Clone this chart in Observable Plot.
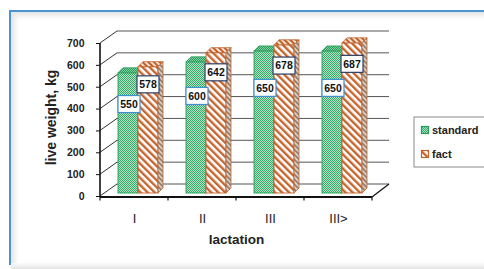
<!DOCTYPE html>
<html><head><meta charset="utf-8">
<script src="https://cdn.jsdelivr.net/npm/d3@7"></script>
<script src="https://cdn.jsdelivr.net/npm/@observablehq/plot@0.6"></script>
<style>
html,body{margin:0;padding:0;background:#fff;}
#wrap{position:relative;width:484px;height:269px;overflow:hidden;font-family:"Liberation Sans",Arial,sans-serif;}
#frame{position:absolute;left:9px;top:10px;width:520px;height:253px;border-top:2px solid #4a94d2;border-left:2px solid #4a94d2;box-shadow: inset 4px 4px 5px rgba(0,0,0,0.10);}
#bottomShade{position:absolute;left:11px;right:0;top:263px;height:6px;background:linear-gradient(#fbfbfb,#e4e4e4);}
#chart{position:absolute;left:0;top:0;}
</style></head><body>
<div id="wrap"><div id="frame"></div><div id="bottomShade"></div><div id="chart"></div></div>
<script>
// ---- data ----
const categories = ["I", "II", "III", "III>"];
const standardValues = [550, 600, 650, 650];
const factValues = [578, 642, 678, 687];
const yTicks = [0, 100, 200, 300, 400, 500, 600, 700];
const seriesNames = ["standard", "fact"];
const yTitle = "live weight, kg";
const xTitle = "lactation";

const rows = [];
categories.forEach((c, i) => {
  rows.push({category: c, series: "standard", value: standardValues[i]});
  rows.push({category: c, series: "fact", value: factValues[i]});
});
const standardRows = rows.filter(d => d.series === "standard");
const factRows = rows.filter(d => d.series === "fact");

// ---- styling ----
const look = {
  standard: {inset: [18, 30], fill: "url(#patStd)", top: "url(#patStdTop)", side: "url(#patStdSide)", stroke: "#22a058", box: "#3f8fd2", labelAt: 0.74, labelShift: 1},
  fact: {inset: [38, 10], fill: "url(#patFact)", top: "url(#patFactTop)", side: "url(#patFactSide)", stroke: "#c2632c", box: "#2c3e66", labelAt: 0.86, labelShift: 0}
};
const DEPTH = [5, -5];
const BACK = [17, -12];
const LIFT = -3;

function wallMark(index, scales, values, dim) {
  const {y} = scales;
  const g = d3.create("svg:g");
  const left = dim.marginLeft, right = dim.width - dim.marginRight;
  for (const t of yTicks) {
    const yy = y(t);
    g.append("line").attr("x1", left).attr("y1", yy).attr("x2", left + BACK[0]).attr("y2", yy + BACK[1]).attr("stroke", "#333").attr("stroke-width", 1);
    g.append("line").attr("x1", left + BACK[0]).attr("y1", yy + BACK[1]).attr("x2", right + BACK[0]).attr("y2", yy + BACK[1]).attr("stroke", "#555").attr("stroke-width", 1);
  }
  return g.node();
}

function floorMark(index, scales, values, dim) {
  const {x, y} = scales;
  const g = d3.create("svg:g").attr("stroke", "#111").attr("fill", "none");
  const left = dim.marginLeft, right = dim.width - dim.marginRight;
  const y0 = y(0) + 1;
  g.append("line").attr("x1", left).attr("y1", y(yTicks[yTicks.length - 1])).attr("x2", left).attr("y2", y0).attr("stroke-width", 1.6);
  g.append("line").attr("x1", left).attr("y1", y0).attr("x2", right).attr("y2", y0).attr("stroke-width", 1.8);
  g.append("line").attr("x1", right).attr("y1", y0).attr("x2", right + BACK[0]).attr("y2", y0 + BACK[1] - 1).attr("stroke-width", 1.2);
  const bounds = categories.map(c => x(c)).concat([x(categories[categories.length - 1]) + x.bandwidth()]);
  for (const b of bounds) {
    g.append("line").attr("x1", b).attr("y1", y0).attr("x2", b).attr("y2", y0 + 3.5).attr("stroke-width", 1.2);
  }
  return g.node();
}

function facesMark(s, data) {
  return (index, scales) => {
    const {x, y} = scales;
    const st = look[s];
    const g = d3.create("svg:g");
    const [dx, dy] = DEPTH;
    for (const d of data) {
      const xl = x(d.category) + st.inset[0];
      const xr = x(d.category) + x.bandwidth() - st.inset[1];
      const yt = y(d.value) + LIFT, yb = y(0) + LIFT;
      g.append("path").attr("d", `M${xl},${yt}L${xr},${yt}L${xr + dx},${yt + dy}L${xl + dx},${yt + dy}Z`)
        .attr("fill", st.top).attr("stroke", st.stroke).attr("stroke-width", 0.8);
      g.append("path").attr("d", `M${xr},${yt}L${xr + dx},${yt + dy}L${xr + dx},${yb + dy}L${xr},${yb}Z`)
        .attr("fill", st.side).attr("stroke", st.stroke).attr("stroke-width", 0.8);
    }
    return g.node();
  };
}

function labelsMark(s, data) {
  return (index, scales) => {
    const {x, y} = scales;
    const st = look[s];
    const g = d3.create("svg:g");
    for (const d of data) {
      const xl = x(d.category) + st.inset[0];
      const xr = x(d.category) + x.bandwidth() - st.inset[1];
      const cx = (xl + xr) / 2 + st.labelShift;
      const cy = y(d.value * st.labelAt) + LIFT;
      g.append("rect").attr("x", cx - 11).attr("y", cy - 8.5).attr("width", 22).attr("height", 17)
        .attr("fill", "#fff").attr("stroke", st.box).attr("stroke-width", 1.2);
      g.append("text").attr("x", cx).attr("y", cy).attr("text-anchor", "middle").attr("dy", "0.36em")
        .attr("font-size", 10.5).attr("font-weight", "bold").attr("fill", "#111").text(d.value);
    }
    return g.node();
  };
}

function legendMark(index, scales, values, dim) {
  const g = d3.create("svg:g");
  const lx = dim.width - 70, ly = 117;
  g.append("rect").attr("x", lx).attr("y", ly).attr("width", 90).attr("height", 50)
    .attr("fill", "#fff").attr("stroke", "#8a8a8a").attr("stroke-width", 1);
  seriesNames.forEach((s, i) => {
    const yy = ly + 13 + i * 24;
    g.append("rect").attr("x", lx + 7.5).attr("y", yy - 3.5).attr("width", 7).attr("height", 7)
      .attr("fill", look[s].fill).attr("stroke", look[s].stroke).attr("stroke-width", 1.2);
    g.append("text").attr("x", lx + 18).attr("y", yy).attr("dy", "0.36em").attr("text-anchor", "start")
      .attr("font-size", 11).attr("font-weight", "bold").attr("fill", "#222").text(s);
  });
  return g.node();
}

const svg = Plot.plot({
  width: 484,
  height: 269,
  marginLeft: 100,
  marginRight: 112,
  marginTop: 43,
  marginBottom: 73,
  style: {background: "transparent", fontFamily: "'Liberation Sans', Arial, sans-serif", color: "#222"},
  x: {domain: categories, padding: 0, axis: null},
  y: {domain: [0, 700], axis: null},
  marks: [
    wallMark,
    Plot.barY(standardRows, {x: "category", y: "value", fill: look.standard.fill, stroke: look.standard.stroke, strokeWidth: 0.9, insetLeft: look.standard.inset[0], insetRight: look.standard.inset[1], dy: LIFT}),
    facesMark("standard", standardRows),
    Plot.barY(factRows, {x: "category", y: "value", fill: look.fact.fill, stroke: look.fact.stroke, strokeWidth: 0.9, insetLeft: look.fact.inset[0], insetRight: look.fact.inset[1], dy: LIFT}),
    facesMark("fact", factRows),
    floorMark,
    Plot.axisY({ticks: yTicks, tickSize: 4, tickPadding: 12, fontSize: 10.5, fontWeight: "bold", label: null, stroke: "#111"}),
    Plot.axisX({tickSize: 0, tickPadding: 17, fontSize: 13, label: null}),
    Plot.text([yTitle], {text: d => d, frameAnchor: "left", textAnchor: "middle", rotate: -90, dx: -49, dy: -2.5, fontSize: 14, fontWeight: "bold"}),
    Plot.text([xTitle], {text: d => d, frameAnchor: "bottom", dy: 47, fontSize: 13.5, fontWeight: "bold"}),
    labelsMark("standard", standardRows),
    labelsMark("fact", factRows),
    legendMark
  ]
});

const defs = d3.select(svg).insert("defs", ":first-child");
function checker(id, a, b) {
  const p = defs.append("pattern").attr("id", id).attr("width", 2).attr("height", 2).attr("patternUnits", "userSpaceOnUse");
  p.append("rect").attr("width", 2).attr("height", 2).attr("fill", a);
  p.append("rect").attr("width", 1).attr("height", 1).attr("fill", b);
  p.append("rect").attr("x", 1).attr("y", 1).attr("width", 1).attr("height", 1).attr("fill", b);
}
function stripes(id, bg, fg, period, w) {
  const p = defs.append("pattern").attr("id", id).attr("width", period).attr("height", period)
    .attr("patternUnits", "userSpaceOnUse").attr("patternTransform", "rotate(-45)");
  p.append("rect").attr("width", period).attr("height", period).attr("fill", bg);
  p.append("rect").attr("width", w).attr("height", period).attr("fill", fg);
}
checker("patStd", "#35a967", "#b4e3c6");
checker("patStdTop", "#2a9a5a", "#86cfa4");
checker("patStdSide", "#2a8a52", "#7cbf98");
stripes("patFact", "#ffffff", "#c4652e", 5, 2.4);
stripes("patFactTop", "#f6e2d4", "#c0602a", 4, 2);
stripes("patFactSide", "#d9cfc6", "#8f7a6a", 3.5, 1.6);

document.getElementById("chart").appendChild(svg);
</script>
</body></html>
